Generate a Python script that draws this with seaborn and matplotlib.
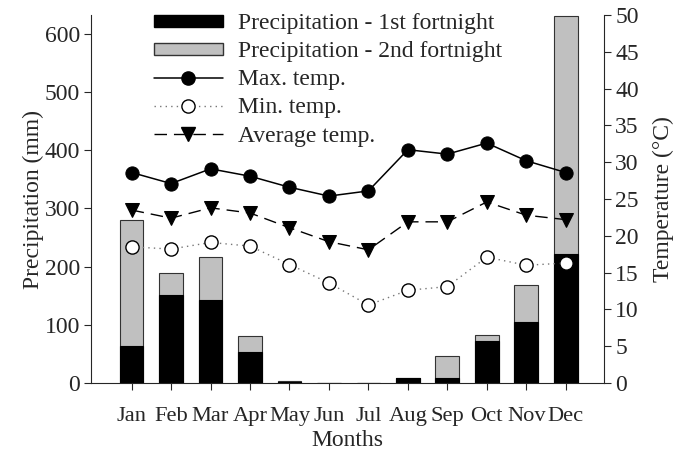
import numpy as np
import pandas as pd
import matplotlib
matplotlib.use("Agg")
import matplotlib.pyplot as plt
import seaborn as sns
from matplotlib.patches import Patch
from matplotlib.lines import Line2D

months = ["Jan", "Feb", "Mar", "Apr", "May", "Jun", "Jul", "Aug", "Sep", "Oct", "Nov", "Dec"]
precip_1st = [64, 152, 142, 53, 2, 0, 0, 8, 9, 73, 104, 222]
precip_2nd = [216, 37, 74, 27, 1, 0, 0, 0, 37, 9, 64, 408]
max_temp = [28.6, 27.1, 29.1, 28.1, 26.6, 25.4, 26.1, 31.7, 31.1, 32.6, 30.2, 28.6]
min_temp = [18.5, 18.2, 19.1, 18.6, 16.1, 13.6, 10.6, 12.6, 13.1, 17.1, 16.0, 16.3]
avg_temp = [23.5, 22.4, 23.8, 23.1, 21.1, 19.2, 18.1, 21.9, 21.9, 24.6, 22.8, 22.2]
left_ticks = [0, 100, 200, 300, 400, 500, 600]
right_ticks = [0, 5, 10, 15, 20, 25, 30, 35, 40, 45, 50]

FS = 17

sns.set_style("ticks")
plt.rcParams["font.family"] = ["Liberation Serif", "DejaVu Serif"]
plt.rcParams["font.size"] = FS

df = pd.DataFrame({
    "month": months,
    "p1": precip_1st,
    "total": np.array(precip_1st) + np.array(precip_2nd),
    "pos": np.arange(len(months)),
    "tmax": max_temp,
    "tmin": min_temp,
    "tavg": avg_temp,
})

fig = plt.figure(figsize=(6.75, 4.55), dpi=100)
ax = fig.add_axes([0.1348, 0.1582, 0.76, 0.8088])

sns.barplot(data=df, x="month", y="total", order=months, color="#c0c0c0",
            saturation=1, edgecolor="#333333", linewidth=0.8, width=0.6,
            errorbar=None, ax=ax)
sns.barplot(data=df, x="month", y="p1", order=months, color="black",
            saturation=1, edgecolor="black", linewidth=0.8, width=0.6,
            errorbar=None, ax=ax)

ax.set_ylim(0, 632)
ax.set_yticks(left_ticks)
ax.set_xlim(-1.03, 11.97)
ax.set_ylabel("Precipitation (mm)", fontsize=FS, labelpad=0.5)
ax.set_xlabel("Months", fontsize=FS, labelpad=3)
ax.tick_params(axis="y", labelsize=FS, direction="out", length=5, width=0.8, pad=3)
ax.tick_params(axis="x", labelsize=16.2, direction="out", length=5, width=0.8, pad=12)
for s in ["top", "right"]:
    ax.spines[s].set_visible(False)
for s in ["left", "bottom"]:
    ax.spines[s].set_linewidth(0.8)

ax2 = ax.twinx()
sns.lineplot(data=df, x="pos", y="tmin", ax=ax2, color="#777777", linewidth=1,
             linestyle=(0, (1, 3)), marker="o", markersize=9.5,
             markerfacecolor="white", markeredgecolor="black", markeredgewidth=1)
sns.lineplot(data=df, x="pos", y="tavg", ax=ax2, color="black", linewidth=1,
             linestyle=(0, (9, 5)), marker="v", markersize=9.5,
             markerfacecolor="black", markeredgecolor="black")
sns.lineplot(data=df, x="pos", y="tmax", ax=ax2, color="black", linewidth=1.1,
             marker="o", markersize=9.5, markerfacecolor="black", markeredgecolor="black")
ax2.set_ylim(0, 50)
ax2.set_yticks(right_ticks)
ax2.set_xlim(-1.03, 11.97)
ax2.set_ylabel("Temperature (°C)", fontsize=FS, labelpad=10)
ax2.tick_params(axis="y", labelsize=FS, direction="out", length=5, width=0.8, pad=3)
for s in ["top", "left", "bottom"]:
    ax2.spines[s].set_visible(False)
ax2.spines["right"].set_visible(True)
ax2.spines["right"].set_linewidth(0.8)

handles = [
    Patch(facecolor="black", edgecolor="black", label="Precipitation - 1st fortnight"),
    Patch(facecolor="#c0c0c0", edgecolor="#333333", label="Precipitation - 2nd fortnight"),
    Line2D([], [], color="black", lw=1.1, marker="o", markersize=9.5, label="Max. temp."),
    Line2D([], [], color="#777777", lw=1, linestyle=(0, (1, 3)), marker="o", markersize=9.5,
           markerfacecolor="white", markeredgecolor="black", label="Min. temp."),
    Line2D([], [], color="black", lw=1, linestyle=(0, (9, 5)), marker="v", markersize=9.5,
           label="Average temp."),
]
ax2.legend(handles=handles, loc="upper left", bbox_to_anchor=(0.123, 1.005),
           frameon=False, fontsize=FS, handlelength=2.9, handletextpad=0.65,
           labelspacing=0.3, borderpad=0, borderaxespad=0, numpoints=1,
           handleheight=0.4)

fig.savefig("out.png", dpi=100)
